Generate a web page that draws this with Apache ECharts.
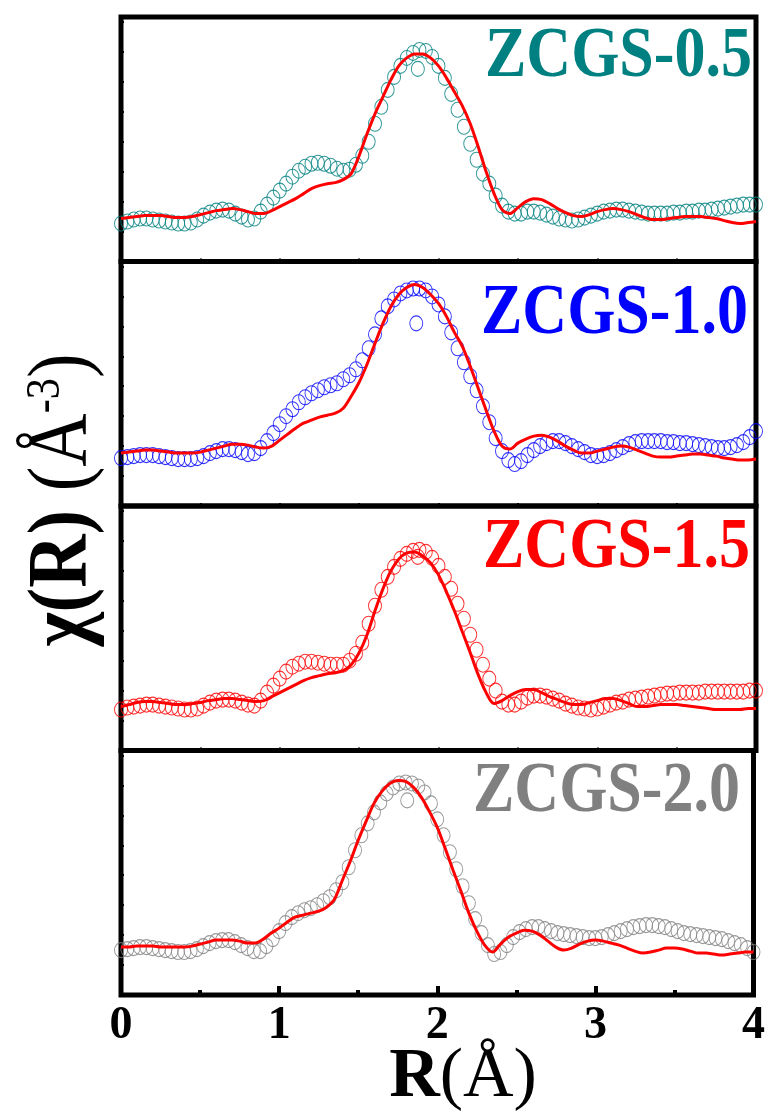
<!DOCTYPE html>
<html>
<head>
<meta charset="utf-8">
<script src="https://cdn.jsdelivr.net/npm/echarts@6/dist/echarts.min.js"></script>
<style>
html, body { margin: 0; padding: 0; background: #fff; }
#main { width: 768px; height: 1113px; }
</style>
</head>
<body>
<div id="main"></div>
<script>
// sample names + colours, top to bottom
const sampleNames = ['ZCGS-0.5', 'ZCGS-1.0', 'ZCGS-1.5', 'ZCGS-2.0'];
const sampleColors = ['#008080', '#0000ff', '#ff0000', '#808080'];
const xTicks = ['0', '1', '2', '3', '4'];

// measured |chi(R)| (open circles), R = 0 .. 4 in steps of 0.04
const dataStep = 0.04;
const exp05 = [38,40,42,43,43,42,41,40,39,38,
  38,39,42,46,49,51,52,51,48,45,
  42,43,50,57,64,71,78,85,91,95,
  98,99,98,96,93,91,92,97,106,120,
  138,155,172,185,196,204,209,212,211,205,
  196,184,168,152,135,118,102,88,78,66,
  56,50,48,48,50,50,49,47,45,43,
  42,41,42,44,46,48,50,51,52,52,
  51,50,49,48,48,48,48,49,49,50,
  50,51,51,52,53,54,55,56,57,57,57];
const exp10 = [48,49,50,51,51,51,50,49,48,47,
  47,47,48,50,53,55,57,57,56,54,
  52,53,58,65,73,82,90,97,104,109,
  113,116,119,121,123,127,131,137,146,158,
  172,188,200,207,213,216,218,218,216,210,
  202,190,174,158,144,130,116,100,84,68,
  55,46,42,45,51,56,60,63,65,65,
  63,60,57,54,51,50,51,53,56,59,
  62,64,65,65,65,65,64,64,63,63,
  62,61,60,59,58,58,59,61,64,69,75];
const exp15 = [41,43,44,45,46,46,45,44,43,42,
  41,41,42,45,48,50,51,51,50,48,
  46,45,50,58,65,72,79,84,87,89,
  89,88,87,86,86,86,90,97,108,127,
  145,161,174,184,192,197,200,201,199,193,
  185,174,162,147,132,116,101,86,72,60,
  49,46,46,49,53,55,55,54,52,50,
  47,45,43,42,41,42,44,46,48,49,
  51,52,53,54,55,56,57,57,58,58,
  58,58,59,59,59,59,59,59,59,60,60];
const exp20 = [45,46,47,48,48,47,46,45,44,43,
  43,44,46,49,52,54,55,55,53,50,
  47,44,44,49,56,64,72,78,82,85,
  87,90,94,98,105,113,128,145,160,172,
  183,193,202,208,212,213,212,209,203,192,
  176,160,143,126,109,92,76,62,50,41,
  43,50,58,63,66,68,68,66,64,62,
  61,60,59,58,57,57,58,60,62,64,
  66,68,69,70,70,69,68,66,64,62,
  61,60,59,58,57,56,54,52,50,47,43];

// fitted curves (red lines), R = 0 .. 4 in steps of 0.05
const fitStep = 0.05;
const fit05 = [43,44,45,46,46,46,45,44,44,45,
  47,49,51,52,53,52,50,48,48,51,
  55,59,63,68,73,76,78,79,82,88,
  106,128,148,165,182,196,204,208,208,204,
  196,184,170,156,138,115,90,68,52,48,
  54,60,63,62,58,53,49,46,45,47,
  50,52,53,52,50,47,44,42,42,43,
  44,45,45,45,44,43,41,39,38,39,
  40];
const fit10 = [53,54,55,56,56,55,54,53,53,53,
  54,56,58,60,62,62,61,59,58,60,
  66,72,78,83,86,89,91,93,98,110,
  124,142,163,183,200,212,219,222,219,212,
  203,190,174,160,140,118,96,75,60,57,
  63,67,70,71,69,65,60,56,53,53,
  55,57,59,60,59,56,53,50,49,49,
  50,51,52,52,51,50,48,47,46,46,
  47];
const fit15 = [44,46,48,49,49,48,47,46,46,47,
  48,50,51,52,52,51,50,49,50,54,
  58,62,66,70,73,75,77,78,80,86,
  98,116,140,162,180,192,198,199,195,188,
  176,159,140,119,98,76,58,47,50,55,
  59,61,61,58,54,51,48,46,46,48,
  50,52,52,50,47,44,44,45,46,46,
  46,45,44,43,42,41,41,41,41,42,
  42];
const fit20 = [48,48,49,49,49,48,48,48,48,49,
  51,53,55,55,55,54,52,52,56,62,
  67,73,78,80,82,84,88,96,115,134,
  155,174,192,204,212,215,214,208,198,184,
  168,147,125,104,82,64,50,43,51,58,
  62,65,64,60,54,48,45,47,51,54,
  55,54,52,50,47,44,42,43,45,47,
  47,46,44,42,42,41,40,41,42,43,
  43];

// the lone circle sitting under each peak
const strayR = [1.87, 1.86, 1.87, 1.81];
const strayChi = [193, 183, 194, 195];

const expSets = [exp05, exp10, exp15, exp20];
const fitSets = [fit05, fit10, fit15, fit20];

const chart = echarts.init(document.getElementById('main'));

const gridTop = 17, panelH = 244.5;
const serif = 'Liberation Serif';

let grids = [], xAxes = [], yAxes = [], series = [], graphics = [];

for (let i = 0; i < 4; i++) {
    const last = i === 3;
    grids.push({
        left: 121, right: 12, top: gridTop + i * panelH, height: panelH,
        show: true, borderColor: '#000', borderWidth: 5
    });
    xAxes.push({
        gridIndex: i, type: 'value', min: 0, max: 4, interval: 1,
        axisLine: { show: false },
        splitLine: { show: false },
        axisTick: { show: true, inside: true, length: last ? 9 : 3, lineStyle: { color: '#000', width: last ? 4 : 2 } },
        minorTick: { show: true, splitNumber: 2, length: last ? 5 : 3, lineStyle: { color: '#000', width: last ? 4 : 2 } },
        axisLabel: {
            show: last, margin: 8, color: '#000',
            fontFamily: serif, fontWeight: 'bold', fontSize: 46,
            formatter: v => xTicks[Math.round(v)]
        }
    });
    yAxes.push({
        gridIndex: i, type: 'value', min: 0, max: 245, interval: 30,
        axisLine: { show: false },
        splitLine: { show: false },
        axisLabel: { show: false },
        axisTick: { show: true, inside: true, length: 3, lineStyle: { color: '#000', width: 2 } }
    });

    series.push({
        type: 'scatter', xAxisIndex: i, yAxisIndex: i,
        symbol: 'circle', symbolSize: [13, 15],
        itemStyle: { color: 'rgba(0,0,0,0)', borderColor: sampleColors[i], borderWidth: 1 },
        data: expSets[i].map((v, k) => [k * dataStep, v]).concat([[strayR[i], strayChi[i]]]),
        z: 2
    });
    series.push({
        type: 'line', xAxisIndex: i, yAxisIndex: i,
        smooth: 0.3, symbol: 'none',
        lineStyle: { color: '#ff0000', width: 3 },
        data: fitSets[i].map((v, k) => [k * fitStep, v]),
        z: 3
    });
}

// sample labels, upper right of each panel
const labelY = [57, 314, 548, 792];
const labelX = [752, 748, 750, 740];
sampleNames.forEach((name, i) => {
    graphics.push({
        type: 'text', x: labelX[i], y: labelY[i], scaleY: 1.17,
        style: {
            text: name, fill: sampleColors[i],
            fontFamily: serif, fontWeight: 'bold', fontSize: 62,
            align: 'right', verticalAlign: 'middle'
        }
    });
});

// axis titles
graphics.push({
    type: 'text', x: 463, y: 1078,
    style: {
        text: '{b|R}{n|(Å)}',
        align: 'center', verticalAlign: 'middle',
        rich: {
            b: { fontFamily: serif, fontWeight: 'bold', fontSize: 70, fill: '#000' },
            n: { fontFamily: serif, fontSize: 70, fill: '#000' }
        }
    }
});
graphics.push({
    type: 'text', x: 64, y: 500, rotation: Math.PI / 2, scaleX: 0.88,
    style: {
        text: '{b|χ(R)}{n| (Å}{s|-3}{n|)}',
        align: 'center', verticalAlign: 'middle',
        rich: {
            b: { fontFamily: serif, fontWeight: 'bold', fontSize: 84, fill: '#000' },
            n: { fontFamily: serif, fontSize: 84, fill: '#000' },
            s: { fontFamily: serif, fontSize: 48, fill: '#000', verticalAlign: 'top' }
        }
    }
});

chart.setOption({
    animation: false,
    backgroundColor: '#fff',
    grid: grids,
    xAxis: xAxes,
    yAxis: yAxes,
    series: series,
    graphic: graphics
});
</script>
</body>
</html>
